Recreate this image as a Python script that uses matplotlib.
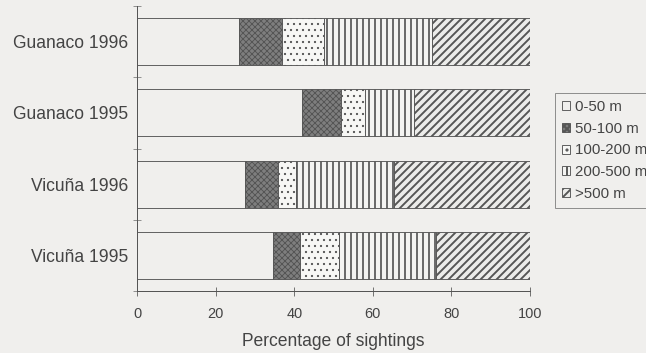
import numpy as np
import matplotlib.pyplot as plt

plt.rcParams['font.family'] = ['Liberation Sans', 'DejaVu Sans']
plt.rcParams['hatch.color'] = '#333333'

# percentage of sightings per distance class (bottom row first)
groups = ['Vicuña 1995', 'Vicuña 1996', 'Guanaco 1995', 'Guanaco 1996']
d0_50 = [34.5, 27.5, 42, 26]
d50_100 = [7, 8.5, 10, 11]
d100_200 = [10, 4.5, 6, 10.5]
d200_500 = [24.5, 25, 12.5, 27.5]
d500 = [24, 34.5, 29.5, 25]
classes = ['0-50 m', '50-100 m', '100-200 m', '200-500 m', '>500 m']

bg = '#f0efed'
ink = '#444444'
edge = '#555555'

# fill, hatch pattern and hatch line width for each distance class
styles = [
    ('#f0efed', None, 1.0),
    ('#7e7e7e', 'xxxx', 0.9),
    ('#f7f7f5', '..', 1.0),
    ('#f4f4f2', '||', 1.7),
    ('#ececea', '///', 1.9),
]

fig = plt.figure(figsize=(646 / 72, 353 / 72), dpi=72, facecolor=bg)
ax = fig.add_axes([137 / 646, 1 - 291 / 353, 393 / 646, 285 / 353])
ax.set_facecolor(bg)

y = np.arange(len(groups))
left = np.zeros(len(groups))
for vals, lab, (fc, hatch, hlw) in zip([d0_50, d50_100, d100_200, d200_500, d500],
                                      classes, styles):
    plt.rcParams['hatch.linewidth'] = hlw
    ax.barh(y, vals, left=left, height=0.66, color=fc,
            edgecolor=edge, linewidth=0.9, hatch=hatch, label=lab)
    left += np.array(vals)

ax.set_xlim(0, 100)
ax.set_ylim(-0.5, 3.5)
ax.set_yticks(y)
ax.set_yticklabels(groups, fontsize=17.5, color=ink)
ax.set_yticks(np.arange(-0.5, 4, 1), minor=True)
ax.tick_params(axis='y', which='major', length=0, pad=9)
ax.tick_params(axis='y', which='minor', direction='inout', length=8, color=edge)
ax.set_xticks(np.arange(0, 101, 20))
ax.tick_params(axis='x', direction='inout', length=9, color=edge, labelsize=14.5,
               labelcolor=ink, pad=11)
ax.set_xlabel('Percentage of sightings', fontsize=17.5, color=ink, labelpad=12)

for s in ['top', 'right']:
    ax.spines[s].set_visible(False)
for s in ['left', 'bottom']:
    ax.spines[s].set_color(edge)
    ax.spines[s].set_linewidth(1)

leg = fig.legend(loc='upper left', bbox_to_anchor=(555 / 646, 1 - 93 / 353),
                 fontsize=15, frameon=True, fancybox=False, edgecolor='#777777',
                 facecolor=bg, handlelength=0.55, handleheight=0.55,
                 handletextpad=0.35, labelspacing=0.52, borderpad=0.45,
                 borderaxespad=0)
for t in leg.get_texts():
    t.set_color(ink)
leg.get_frame().set_linewidth(1)

fig.savefig('out.png', dpi=72, facecolor=bg)
